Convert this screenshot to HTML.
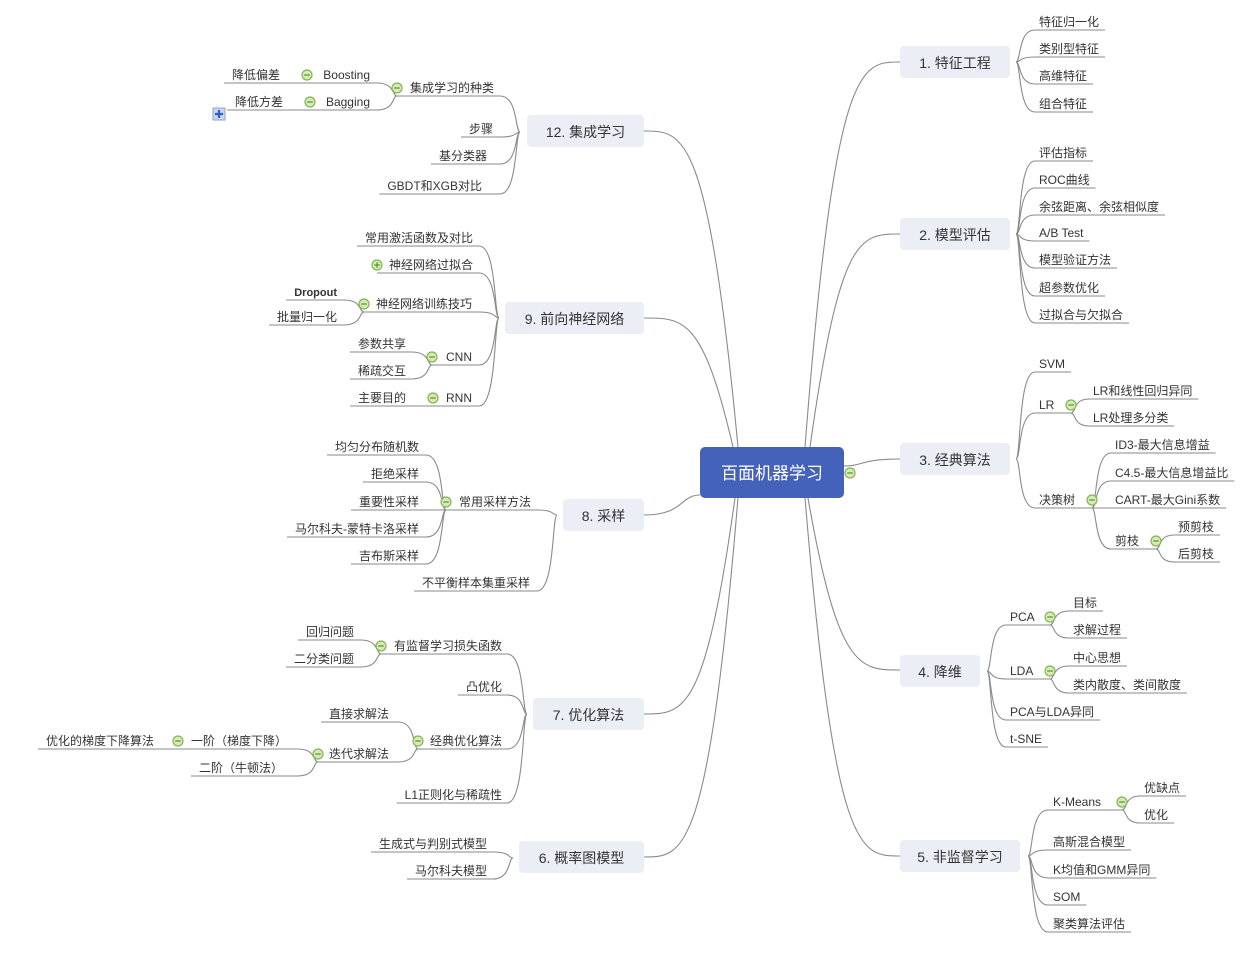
<!DOCTYPE html>
<html><head><meta charset="utf-8"><style>
html,body{margin:0;padding:0;background:#fff;}
svg{display:block;font-family:"Liberation Sans","Noto Sans CJK SC",sans-serif;}
</style></head><body>
<svg id="s" width="1243" height="960" viewBox="0 0 1243 960" xmlns="http://www.w3.org/2000/svg">
<g id="lines" fill="none" stroke="#8a8a8a" stroke-width="1.1"></g>
<g id="boxes"></g>
<g id="txt" fill="#333" font-size="12"></g>
<g id="circ"></g>
</svg>
<script>
var NS="http://www.w3.org/2000/svg";
var L=document.getElementById('lines'),B=document.getElementById('boxes'),T=document.getElementById('txt'),C=document.getElementById('circ');
function el(p,tag,a,t){var e=document.createElementNS(NS,tag);for(var k in a)e.setAttribute(k,a[k]);if(t!=null)e.textContent=t;p.appendChild(e);return e;}
function circ(x,y,plus){el(C,'circle',{cx:x,cy:y,r:5,fill:'#d3ebb5',stroke:'#86b356','stroke-width':1.2});el(C,'line',{x1:x-2.8,y1:y,x2:x+2.8,y2:y,stroke:'#5d8f2e','stroke-width':1.2});if(plus)el(C,'line',{x1:x,y1:y-2.8,x2:x,y2:y+2.8,stroke:'#5d8f2e','stroke-width':1.2});}
function path(d){el(L,'path',{d:d});}
function R(p,x,ty,text,cx,opt){opt=opt||{};var uy=ty+9;var t=el(T,'text',{x:x,y:ty+5,'font-size':opt.fs||12,'font-weight':opt.fw||'normal'},text);var w=t.getComputedTextLength();var x2=cx?cx:x+w+6;var xs=Math.min(p.x+20,x-4);path('M'+p.x+','+p.y+' C'+(p.x+5)+','+p.y+' '+(p.x+2)+','+uy+' '+xs+','+uy+' L'+x2+','+uy);if(cx)circ(cx,ty+1);return {x:cx,y:uy};}
function Lf(p,ex,ty,text,cx,opt){opt=opt||{};var uy=ty+9;var t=el(T,'text',{x:ex,y:ty+5,'text-anchor':'end','font-size':opt.fs||12,'font-weight':opt.fw||'normal'},text);var w=t.getComputedTextLength();var x2=cx?cx:ex-w-8;var xs=Math.max(p.x-20,ex+4);path('M'+p.x+','+p.y+' C'+(p.x-5)+','+p.y+' '+(p.x-2)+','+uy+' '+xs+','+uy+' L'+x2+','+uy);if(cx)circ(cx,ty+1,opt.plus);return {x:cx,y:uy};}
function box(x1,x2,cy,text){el(B,'rect',{x:x1,y:cy-16,width:x2-x1,height:32,rx:4,fill:'#eceef5'});el(T,'text',{x:(x1+x2)/2,y:cy+6,'text-anchor':'middle','font-size':14},text);}
el(B,'rect',{x:700,y:447,width:144,height:51,rx:5,fill:'#4562bb'});
el(T,'text',{x:772,y:479,'text-anchor':'middle','font-size':17,fill:'#fff'},'百面机器学习');
[[805,447,900,62],[810,447,900,234],[844,466,900,459],[808,498,900,670],[805,498,900,856]].forEach(function(a){path('M'+a[0]+','+a[1]+' C'+(a[0]+(a[1]==466?20:30))+','+(a[1]==466?a[1]:a[3])+' '+(a[2]-40)+','+a[3]+' '+a[2]+','+a[3]);});
[[738,447,644,131],[733,447,644,318],[700,495,644,515],[735,498,644,714],[738,498,644,857]].forEach(function(a){path('M'+a[0]+','+a[1]+' C'+(a[0]-(a[1]==495?20:30))+','+(a[1]==495?a[1]:a[3])+' '+(a[2]+40)+','+a[3]+' '+a[2]+','+a[3]);});
box(900,1010,62,'1. 特征工程');box(900,1010,234,'2. 模型评估');box(900,1010,459,'3. 经典算法');box(900,980,671,'4. 降维');box(900,1020,856,'5. 非监督学习');
box(527,644,131,'12. 集成学习');box(505,644,318,'9. 前向神经网络');box(563,644,515,'8. 采样');box(533,644,714,'7. 优化算法');box(519,644,857,'6. 概率图模型');
circ(850,473);
var p={x:1016,y:62};
['特征归一化','类别型特征','高维特征','组合特征'].forEach(function(t,i){R(p,1039,[21,48,75,103][i],t);});
p={x:1016,y:234};
['评估指标','ROC曲线','余弦距离、余弦相似度','A/B Test','模型验证方法','超参数优化','过拟合与欠拟合'].forEach(function(t,i){R(p,1039,[152,179,206,232,259,287,314][i],t);});
p={x:1016,y:459};
R(p,1039,363,'SVM');
var lr=R(p,1039,404,'LR',1071);R(lr,1093,390,'LR和线性回归异同');R(lr,1093,417,'LR处理多分类');
var dt=R(p,1039,499,'决策树',1092);R(dt,1115,444,'ID3-最大信息增益');R(dt,1115,472,'C4.5-最大信息增益比');R(dt,1115,499,'CART-最大Gini系数');
var jz=R(dt,1115,540,'剪枝',1156);R(jz,1178,526,'预剪枝');R(jz,1178,553,'后剪枝');
p={x:987,y:671};
var pca=R(p,1010,616,'PCA',1050);R(pca,1073,602,'目标');R(pca,1073,629,'求解过程');
var lda=R(p,1010,670,'LDA',1050);R(lda,1073,657,'中心思想');R(lda,1073,684,'类内散度、类间散度');
R(p,1010,711,'PCA与LDA异同');R(p,1010,738,'t-SNE');
p={x:1028,y:856};
var km=R(p,1053,801,'K-Means',1122);R(km,1144,787,'优缺点');R(km,1144,814,'优化');
R(p,1053,841,'高斯混合模型');R(p,1053,869,'K均值和GMM异同');R(p,1053,896,'SOM');R(p,1053,923,'聚类算法评估');
p={x:520,y:132};
var jc=Lf(p,494,87,'集成学习的种类',397);
var bo=Lf(jc,370,74,'Boosting',307);Lf(bo,280,74,'降低偏差');
var ba=Lf(jc,370,101,'Bagging',310);Lf(ba,283,101,'降低方差');
Lf(p,493,128,'步骤');Lf(p,487,155,'基分类器');Lf(p,482,185,'GBDT和XGB对比');
el(C,'rect',{x:213,y:108,width:12,height:12,fill:'#c9d6ee',stroke:'#8fa4cc'});
el(C,'path',{d:'M215,114 H223 M219,110 V118',stroke:'#2a61c9','stroke-width':2.2});
p={x:499,y:318};
Lf(p,473,237,'常用激活函数及对比');
Lf(p,473,264,'神经网络过拟合',377,{plus:1});
var nt=Lf(p,472,303,'神经网络训练技巧',364);Lf(nt,337,291,'Dropout',null,{fs:11,fw:'bold'});Lf(nt,337,316,'批量归一化');
var cnn=Lf(p,472,356,'CNN',432);Lf(cnn,406,343,'参数共享');Lf(cnn,406,370,'稀疏交互');
var rnn=Lf(p,472,397,'RNN',433);Lf(rnn,406,397,'主要目的');
p={x:557,y:515};
var cy=Lf(p,531,501,'常用采样方法',446);
['均匀分布随机数','拒绝采样','重要性采样','马尔科夫-蒙特卡洛采样','吉布斯采样'].forEach(function(t,i){Lf(cy,419,[446,473,501,528,555][i],t);});
Lf(p,530,582,'不平衡样本集重采样');
p={x:527,y:714};
var ls=Lf(p,502,645,'有监督学习损失函数',381);Lf(ls,354,631,'回归问题');Lf(ls,354,658,'二分类问题');
Lf(p,502,686,'凸优化');
var jd=Lf(p,502,740,'经典优化算法',418);Lf(jd,389,713,'直接求解法');
var dd=Lf(jd,389,753,'迭代求解法',318);
var yj=Lf(dd,287,740,'一阶（梯度下降）',178);Lf(yj,154,740,'优化的梯度下降算法');
Lf(dd,283,767,'二阶（牛顿法）');
Lf(p,502,794,'L1正则化与稀疏性');
p={x:513,y:858};
Lf(p,487,843,'生成式与判别式模型');Lf(p,487,870,'马尔科夫模型');
</script>
</body></html>
